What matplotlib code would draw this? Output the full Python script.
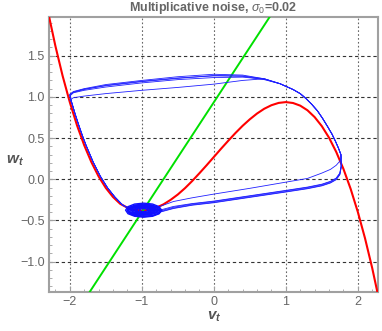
import matplotlib
matplotlib.use("Agg")
import matplotlib.pyplot as plt
from matplotlib.ticker import MultipleLocator, FixedLocator

plt.rcParams['font.family'] = ['Liberation Sans', 'DejaVu Sans']
plt.rcParams['axes.unicode_minus'] = True
plt.rcParams['mathtext.fontset'] = 'custom'
plt.rcParams['mathtext.rm'] = 'Liberation Sans'
plt.rcParams['mathtext.it'] = 'Liberation Sans:italic'
plt.rcParams['mathtext.bf'] = 'Liberation Sans:italic:bold'

# red nullcline
red_v = [-2.3, -2.2, -2.1, -2.0, -1.9, -1.8, -1.7, -1.6, -1.5, -1.4, -1.3, -1.2,
         -1.1, -1.0, -0.9, -0.8, -0.7, -0.6, -0.5, -0.4, -0.3, -0.2, -0.1, 0.0,
         0.1, 0.2, 0.3, 0.4, 0.5, 0.6, 0.7, 0.8, 0.9, 1.0, 1.1, 1.2, 1.3, 1.4,
         1.5, 1.6, 1.7, 1.8, 1.9, 2.0, 2.1, 2.2, 2.3]
red_w = [2.026, 1.619, 1.257, 0.937, 0.656, 0.414, 0.208, 0.035, -0.105, -0.215,
         -0.298, -0.345, -0.370, -0.380, -0.370, -0.345, -0.305, -0.250, -0.185,
         -0.108, -0.021, 0.073, 0.170, 0.270, 0.370, 0.467, 0.561, 0.649, 0.728,
         0.798, 0.856, 0.899, 0.927, 0.937, 0.926, 0.894, 0.838, 0.755, 0.645,
         0.505, 0.332, 0.126, -0.116, -0.397, -0.717, -1.079, -1.486]

# green nullcline (straight line)
green_v = [-1.80, 0.85]
green_w = [-1.47, 2.07]

# blue trajectory: bottom run (left to right)
bottom_v = [-0.90, -0.75, -0.56, -0.30, 0.00, 0.50, 1.00, 1.30, 1.50, 1.62, 1.70, 1.75, 1.77]
bottom_w1 = [-0.41, -0.385, -0.34, -0.30, -0.27, -0.205, -0.14, -0.10, -0.065, -0.03, 0.01, 0.07, 0.16]
bottom_w2 = [-0.42, -0.395, -0.35, -0.31, -0.28, -0.215, -0.15, -0.11, -0.075, -0.04, 0.00, 0.06, 0.15]
bottom_w3 = [-0.40, -0.375, -0.33, -0.295, -0.265, -0.20, -0.135, -0.095, -0.06, -0.025, 0.015, 0.075, 0.17]
bottom_w4 = [-0.425, -0.40, -0.355, -0.315, -0.285, -0.22, -0.155, -0.115, -0.08, -0.045, -0.005, 0.055, 0.15]
bottom_w5 = [-0.38, -0.33, -0.27, -0.225, -0.18, -0.11, -0.035, 0.01, 0.075, 0.12, 0.17, 0.22, 0.26]

# right branch (going up)
right_v = [1.765, 1.73, 1.69, 1.64, 1.58, 1.51, 1.44, 1.36, 1.28, 1.20, 1.10, 0.92]
right_w = [0.30, 0.38, 0.46, 0.55, 0.64, 0.74, 0.83, 0.91, 0.98, 1.04, 1.09, 1.16]

# top run (right to left)
top_v = [0.70, 0.40, 0.00, -0.50, -1.00, -1.50, -1.80, -1.95, -2.00]
top_w1 = [1.22, 1.265, 1.275, 1.245, 1.20, 1.15, 1.10, 1.065, 1.03]
top_w2 = [1.21, 1.25, 1.255, 1.23, 1.19, 1.14, 1.09, 1.055, 1.02]
top_w3 = [1.215, 1.24, 1.235, 1.21, 1.17, 1.12, 1.08, 1.05, 1.01]
top_w4 = [1.22, 1.255, 1.26, 1.225, 1.185, 1.135, 1.095, 1.06, 1.03]
top_w5 = [1.22, 1.20, 1.155, 1.115, 1.08, 1.04, 1.01, 0.99, 0.96]

# left branch (going down)
left_v = [-1.975, -1.925, -1.875, -1.825, -1.775, -1.675, -1.575, -1.475, -1.375, -1.27, -1.17, -1.07]
left_w = [0.937, 0.79, 0.656, 0.53, 0.414, 0.208, 0.035, -0.105, -0.215, -0.31, -0.36, -0.39]

# small oscillations around the fixed point
blob_v = [
    [-0.725, -0.758, -0.850, -0.975, -1.100, -1.192, -1.225, -1.192, -1.100, -0.975, -0.850, -0.758, -0.725],
    [-0.730, -0.761, -0.845, -0.960, -1.075, -1.159, -1.190, -1.159, -1.075, -0.960, -0.845, -0.761, -0.730],
    [-0.745, -0.775, -0.860, -0.975, -1.090, -1.175, -1.205, -1.175, -1.090, -0.975, -0.860, -0.775, -0.745],
    [-0.765, -0.793, -0.870, -0.975, -1.080, -1.157, -1.185, -1.157, -1.080, -0.975, -0.870, -0.793, -0.765],
    [-0.785, -0.810, -0.880, -0.975, -1.070, -1.140, -1.165, -1.140, -1.070, -0.975, -0.880, -0.810, -0.785],
    [-0.805, -0.828, -0.890, -0.975, -1.060, -1.122, -1.145, -1.122, -1.060, -0.975, -0.890, -0.828, -0.805],
    [-0.825, -0.845, -0.900, -0.975, -1.050, -1.105, -1.125, -1.105, -1.050, -0.975, -0.900, -0.845, -0.825],
    [-0.845, -0.862, -0.910, -0.975, -1.040, -1.088, -1.105, -1.088, -1.040, -0.975, -0.910, -0.862, -0.845],
    [-0.865, -0.880, -0.920, -0.975, -1.030, -1.070, -1.085, -1.070, -1.030, -0.975, -0.920, -0.880, -0.865],
    [-0.885, -0.897, -0.930, -0.975, -1.020, -1.053, -1.065, -1.053, -1.020, -0.975, -0.930, -0.897, -0.885],
    [-0.915, -0.923, -0.945, -0.975, -1.005, -1.027, -1.035, -1.027, -1.005, -0.975, -0.945, -0.923, -0.915],
]
blob_w = [
    [-0.375, -0.333, -0.301, -0.290, -0.301, -0.333, -0.375, -0.418, -0.449, -0.460, -0.449, -0.418, -0.375],
    [-0.380, -0.346, -0.321, -0.312, -0.321, -0.346, -0.380, -0.414, -0.439, -0.448, -0.439, -0.414, -0.380],
    [-0.378, -0.340, -0.312, -0.302, -0.312, -0.340, -0.378, -0.416, -0.444, -0.454, -0.444, -0.416, -0.378],
    [-0.375, -0.344, -0.321, -0.313, -0.321, -0.344, -0.375, -0.406, -0.429, -0.437, -0.429, -0.406, -0.375],
    [-0.375, -0.347, -0.327, -0.319, -0.327, -0.347, -0.375, -0.403, -0.423, -0.431, -0.423, -0.403, -0.375],
    [-0.375, -0.350, -0.332, -0.325, -0.332, -0.350, -0.375, -0.400, -0.418, -0.425, -0.418, -0.400, -0.375],
    [-0.375, -0.352, -0.336, -0.330, -0.336, -0.352, -0.375, -0.398, -0.414, -0.420, -0.414, -0.398, -0.375],
    [-0.375, -0.355, -0.340, -0.335, -0.340, -0.355, -0.375, -0.395, -0.410, -0.415, -0.410, -0.395, -0.375],
    [-0.375, -0.358, -0.346, -0.341, -0.346, -0.358, -0.375, -0.392, -0.404, -0.409, -0.404, -0.392, -0.375],
    [-0.375, -0.361, -0.351, -0.347, -0.351, -0.361, -0.375, -0.389, -0.399, -0.403, -0.399, -0.389, -0.375],
    [-0.375, -0.366, -0.359, -0.357, -0.359, -0.366, -0.375, -0.384, -0.391, -0.393, -0.391, -0.384, -0.375],
]

x_ticks = [-2, -1, 0, 1, 2]
y_ticks = [-1.0, -0.5, 0.0, 0.5, 1.0, 1.5]

fig = plt.figure(figsize=(3.82, 3.31), dpi=100)
ax = fig.add_axes([0.128, 0.119, 0.8615, 0.8296])

ax.plot(red_v, red_w, color='#ff0000', lw=1.5, zorder=3)
ax.plot(green_v, green_w, color='#00e000', lw=1.4, zorder=3)

bottoms = [bottom_w1, bottom_w2, bottom_w3, bottom_w4, bottom_w5]
tops = [top_w1, top_w2, top_w3, top_w4, top_w5]
for bw, tw in zip(bottoms, tops):
    v = bottom_v + right_v + top_v + left_v
    w = bw + right_w + tw + left_w
    ax.plot(v, w, color='#2020ff', lw=0.6, zorder=4)

for bv, bw in zip(blob_v, blob_w):
    ax.plot(bv, bw, color='#1010ff', lw=1.0, zorder=4)

ax.set_xlim(-2.29, 2.28)
ax.set_ylim(-1.364, 1.97)

ax.xaxis.set_major_locator(FixedLocator(x_ticks))
ax.yaxis.set_major_locator(FixedLocator(y_ticks))
ax.xaxis.set_minor_locator(MultipleLocator(0.2))
ax.yaxis.set_minor_locator(MultipleLocator(0.1))
ax.set_yticklabels([f"{t:.1f}".replace('-', '\u2212') for t in y_ticks])
ax.set_xticklabels([str(t).replace('-', '\u2212') for t in x_ticks])

for x in x_ticks:
    ax.axvline(x, color='#666666', lw=0.8, ls=(0, (1.5, 2)), zorder=1)
for y in y_ticks:
    ax.axhline(y, color='#333333', lw=0.8, ls=(0, (3, 2.5)), zorder=1)

for s in ax.spines.values():
    s.set_color('#a0a0a0')
    s.set_linewidth(1.5)
ax.tick_params(which='both', direction='in', colors='#a0a0a0', labelcolor='#666666',
               labelsize=9, top=False, right=False)
ax.tick_params(which='major', length=4, width=0.8, pad=3)
ax.tick_params(which='minor', length=2, width=0.6)

fig.text(0.56, 0.042, r'$\mathbf{v}_\mathbf{t}$', fontsize=11, color='#555555',
         ha='center', va='center')
fig.text(0.038, 0.513, r'$\mathbf{w}_\mathbf{t}$', fontsize=11, color='#555555',
         ha='center', va='center')

ax.set_title(r'Multiplicative noise, $\sigma_0$=0.02', fontsize=9, fontweight='bold',
             color='#666666', pad=4)

fig.savefig('out.png', dpi=100)
